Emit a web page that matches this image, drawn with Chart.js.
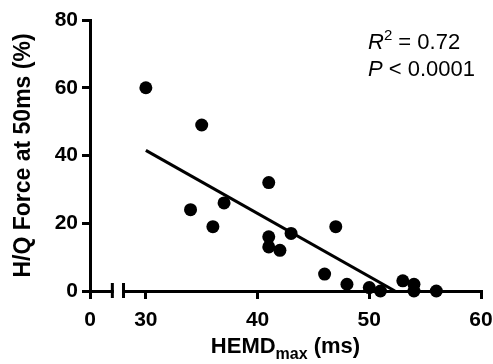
<!DOCTYPE html>
<html>
<head>
<meta charset="utf-8">
<script src="https://cdn.jsdelivr.net/npm/chart.js@4"></script>
<style>
  html, body { margin: 0; padding: 0; background: #fff; }
</style>
</head>
<body>
<canvas id="chart" width="493" height="364"></canvas>
<script>
// data
const hemd = [30, 35, 34, 36, 37, 41, 41, 41, 42, 43, 46, 47, 48, 50, 51, 53, 54, 54, 56];
const hqForce = [60, 49, 24, 19, 26, 32, 16, 13, 12, 17, 5, 19, 2, 1, 0, 3, 2, 0, 0];
const fitX = [30, 52.3];
const fitY = [41.5, 0];
// x axis is split: the "0" segment is drawn at 25..27, the rest starts at 28
const xTicks = [25, 30, 40, 50, 60];
const xTickLabels = ['0', '30', '40', '50', '60'];
const yTicks = [0, 20, 40, 60, 80];
const axisBreak = [27, 28];

const FONT = 'Arial, "Liberation Sans", sans-serif';

const extras = {
  id: 'extras',
  afterDraw(chart) {
    const { ctx, chartArea, scales: { x } } = chart;
    const b = chartArea.bottom;
    const p1 = x.getPixelForValue(axisBreak[0]);
    const p2 = x.getPixelForValue(axisBreak[1]);
    ctx.save();
    // gap in the axis line
    ctx.fillStyle = '#fff';
    ctx.fillRect(p1 + 1.5, b - 3, p2 - p1 - 3, 6);
    ctx.strokeStyle = '#000';
    ctx.lineWidth = 3;
    ctx.beginPath();
    ctx.moveTo(p1, b - 8); ctx.lineTo(p1, b + 7);
    ctx.moveTo(p2, b - 8); ctx.lineTo(p2, b + 7);
    ctx.stroke();

    // x title with subscript
    ctx.fillStyle = '#000';
    ctx.textBaseline = 'alphabetic';
    const big = 'bold 22px ' + FONT, small = 'bold 16px ' + FONT;
    ctx.font = big;
    const w1 = ctx.measureText('HEMD').width;
    const w3 = ctx.measureText(' (ms)').width;
    ctx.font = small;
    const w2 = ctx.measureText('max').width;
    let tx = (chartArea.left + chartArea.right) / 2 - (w1 + w2 + w3) / 2;
    const ty = 353;
    ctx.font = big; ctx.fillText('HEMD', tx, ty); tx += w1;
    ctx.font = small; ctx.fillText('max', tx, ty + 6); tx += w2;
    ctx.font = big; ctx.fillText(' (ms)', tx, ty);

    // stats text
    const sx = chartArea.right - 113;
    ctx.font = 'italic 22px ' + FONT;
    ctx.fillText('R', sx, 49);
    let rx = sx + ctx.measureText('R').width;
    ctx.font = '15px ' + FONT;
    ctx.fillText('2', rx, 40);
    rx += ctx.measureText('2').width;
    ctx.font = '22px ' + FONT;
    ctx.fillText(' = 0.72', rx, 49);
    ctx.font = 'italic 22px ' + FONT;
    ctx.fillText('P', sx, 76);
    const px = sx + ctx.measureText('P').width;
    ctx.font = '22px ' + FONT;
    ctx.fillText(' < 0.0001', px, 76);
    ctx.restore();
  }
};

new Chart(document.getElementById('chart'), {
  type: 'scatter',
  data: {
    datasets: [
      {
        data: hemd.map((v, i) => ({ x: v, y: hqForce[i] })),
        backgroundColor: '#000',
        borderWidth: 0,
        pointRadius: 6.5,
        clip: false
      },
      {
        type: 'line',
        data: fitX.map((v, i) => ({ x: v, y: fitY[i] })),
        borderColor: '#000',
        borderWidth: 3,
        pointRadius: 0,
        fill: false
      }
    ]
  },
  options: {
    responsive: false,
    animation: false,
    layout: { padding: { top: 20, right: 12, left: 0, bottom: 0 } },
    plugins: { legend: { display: false }, tooltip: { enabled: false } },
    scales: {
      x: {
        type: 'linear',
        min: 25,
        max: 60,
        afterBuildTicks: s => { s.ticks = xTicks.map(v => ({ value: v })); },
        afterFit: s => { s.height = 73; s.paddingRight = 0; s.paddingLeft = 0; },
        ticks: {
          callback: (v, i) => xTickLabels[i],
          font: { family: FONT, size: 21, weight: 'bold' },
          color: '#000',
          padding: 9,
          maxRotation: 0
        },
        grid: { drawOnChartArea: false, tickLength: 8, color: '#000', lineWidth: 3 },
        border: { color: '#000', width: 3 }
      },
      y: {
        min: 0,
        max: 80,
        afterBuildTicks: s => { s.ticks = yTicks.map(v => ({ value: v })); },
        afterFit: s => { s.width = 90; s.paddingTop = 0; s.paddingBottom = 0; },
        ticks: {
          font: { family: FONT, size: 21, weight: 'bold' },
          color: '#000',
          padding: 4
        },
        grid: { drawOnChartArea: false, tickLength: 8, color: '#000', lineWidth: 3 },
        border: { color: '#000', width: 3 },
        title: {
          display: true,
          text: 'H/Q Force at 50ms (%)',
          font: { family: FONT, size: 23, weight: 'bold' },
          color: '#000',
          padding: { top: 10, bottom: 4 }
        }
      }
    }
  },
  plugins: [extras]
});
</script>
</body>
</html>
